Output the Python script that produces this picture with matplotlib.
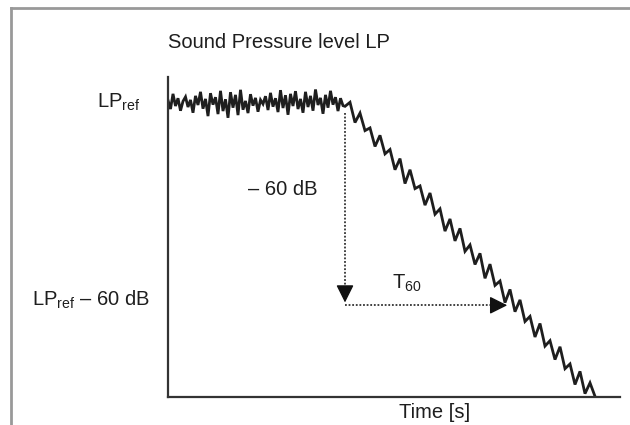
import numpy as np
import matplotlib
matplotlib.use("Agg")
import matplotlib.pyplot as plt
from matplotlib.lines import Line2D

plt.rcParams['font.family'] = ['Liberation Sans', 'DejaVu Sans']
plt.rcParams['mathtext.fontset'] = 'custom'
plt.rcParams['mathtext.rm'] = 'Liberation Sans'
plt.rcParams['mathtext.it'] = 'Liberation Sans'

# level in dB relative to LPref, steady part (step 0.025 s)
steady_step = 0.025
steady_level = [0.8, -1.8, 2.7, -0.9, 1.4, -2.3, 0.5, 1.8, -1.2, 0.9,
                -2.9, 2.1, -0.6, 3.3, -1.7, 1.2, -3.9, 2.9, -0.5, 1.7,
                -3.3, 3.6, -2.4, 1.1, -4.4, 3.2, -1.4, 2.4, -3.6, 3.9,
                -2.0, 0.6, -3.0, 2.6, -0.8, 1.5, -2.6, 0.9, -0.3, 2.0,
                -2.1, 3.0, -1.1, 1.4, -2.7, 3.8, -1.5, 2.3, -3.5, 2.7,
                -0.9, 3.5, -1.8, 1.2, -2.9, 3.3, -1.2, 2.1, -2.3, 4.0,
                -0.6, 1.5, -3.2, 2.4, -1.4, 3.6, -0.5, 1.7, -2.4, 1.4,
                -0.8]

# decay part (step 0.05 s), starts when the source stops
decay_start = 1.77
decay_step = 0.05
decay_level = [-1.0, 0.2, -5.8, -3.0, -8.2, -7.4, -12.9, -9.6, -15.1, -13.8,
               -19.8, -16.5, -23.9, -19.8, -25.4, -24.6, -30.3, -26.7, -33.0, -31.4,
               -38.0, -34.4, -40.9, -37.2, -44.0, -42.1, -47.9, -44.6, -52.0, -47.8,
               -54.1, -52.8, -59.2, -55.3, -61.9, -58.4, -64.8, -63.3, -69.4, -65.4,
               -72.1, -70.5, -76.1, -72.3, -78.8, -77.4, -83.5, -79.6, -86.2, -83.0,
               -87.0]

drop_db = -60
t60_end = 3.42

t_steady = np.arange(len(steady_level)) * steady_step
t_decay = decay_start + np.arange(len(decay_level)) * decay_step
t = np.concatenate([t_steady, t_decay])
lp = np.concatenate([steady_level, decay_level])

W, H = 630, 425
fig = plt.figure(figsize=(6.3, 4.25), dpi=100)
ax = fig.add_axes([168 / W, 1 - 397 / H, 452 / W, 320 / H])

ax.plot(t, lp, color='#1e1e1e', lw=2.0, solid_joinstyle='miter')

# dotted guide lines with arrow heads
dot = dict(color='#333333', lw=1.3, linestyle=(0, (1, 1)))
ax.plot([decay_start, decay_start], [-3, drop_db + 3], **dot)
ax.plot([decay_start, t60_end - 0.1], [drop_db, drop_db], **dot)
head = dict(arrowstyle='-|>', color='#111111', lw=1, mutation_scale=27)
ax.annotate('', xy=(decay_start, drop_db), xytext=(decay_start, drop_db + 4.5),
            arrowprops=head)
ax.annotate('', xy=(t60_end, drop_db), xytext=(t60_end - 0.15, drop_db),
            arrowprops=head)

ax.set_xlim(0, 4.52)
ax.set_ylim(-87.2, 7.7)
for s in ['top', 'right']:
    ax.spines[s].set_visible(False)
for s in ['left', 'bottom']:
    ax.spines[s].set_linewidth(1.6)
    ax.spines[s].set_color('#333333')
ax.set_xticks([])
ax.set_yticks([])


def px(x, y):
    return x / W, 1 - y / H


fs = 14.5
tc = '#1e1e1e'
fig.text(*px(168, 43), 'Sound Pressure level LP', fontsize=fs, va='center', ha='left', color=tc)
fig.text(*px(140, 102), r'$\mathregular{LP_{ref}}$', fontsize=fs, va='center', ha='right', color=tc)
fig.text(*px(150, 300), r'$\mathregular{LP_{ref}}$ – 60 dB', fontsize=fs, va='center', ha='right', color=tc)
fig.text(*px(283, 190), '– 60 dB', fontsize=fs, va='center', ha='center', color=tc)
fig.text(*px(407, 283), r'$\mathregular{T_{60}}$', fontsize=fs, va='center', ha='center', color=tc)
fig.text(*px(435, 412), 'Time [s]', fontsize=fs, va='center', ha='center', color=tc)

# scan frame
fig.add_artist(Line2D([11 / W, 1], [1 - 8 / H, 1 - 8 / H], transform=fig.transFigure, color='#999999', lw=2))
fig.add_artist(Line2D([11 / W, 11 / W], [0, 1 - 8 / H], transform=fig.transFigure, color='#999999', lw=2))

fig.savefig('out.png', dpi=100)
